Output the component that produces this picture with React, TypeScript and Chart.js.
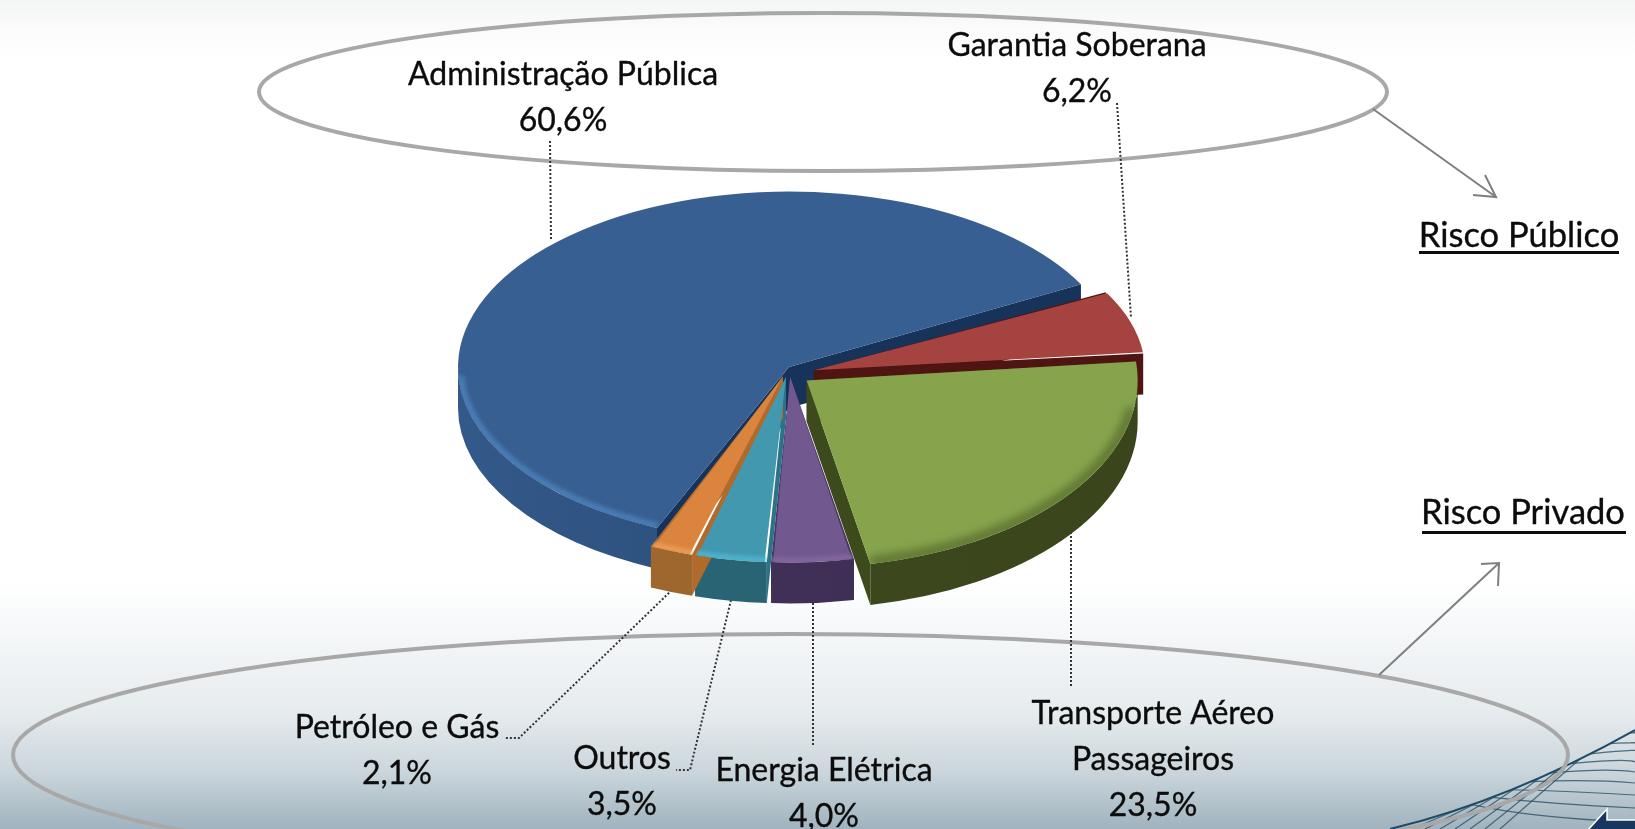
import React, { useEffect, useRef } from "react";
import { Chart, registerables } from "chart.js";

Chart.register(...registerables);

const categories = ["Administração Pública", "Garantia Soberana", "Transporte Aéreo Passageiros", "Energia Elétrica", "Outros", "Petróleo e Gás"];
const shareValues = [60.6, 6.2, 23.5, 4.0, 3.5, 2.1];
const topColors = ["#375F91", "#A44340", "#87A44D", "#71588F", "#4198AF", "#DB843D"];
const rimDark = ["#24436A", "#6A1F1C", "#3A451C", "#3B2C50", "#255F6E", "#96602A"];
const rimLight = ["#33598A", "#7A2623", "#3F4B1E", "#45345F", "#2A6878", "#A36A30"];
const cutColors = ["#17335A", "#4E1513", "#3C4A1C", "#4A3766", "#2D7387", "#B06A2C"];
const bevelColors = ["#4A7DB6", "#B85450", "#5F7532", "#86699F", "#53B7D0", "#EDA05A"];
const bevelWidths = [7, 5, 11, 5, 5, 5];
const explode = [0, 26, 22, 18, 18, 18];
// vertical squash of each slice: the front of the tilted pie looks taller than the back
const tilt = [0.53, 0.5, 0.565, 0.56, 0.56, 0.56];
const drop = [0, 7, 6, 0, 0, 0];

const W = 1635, H = 829;
const CX = 789, CY = 367, R = 331, DEPTH = 41;
const FONT = "32px Lato";
const HEAD_FONT = "34.5px Lato";
const INK = "#0c0c0c";

const labelLines = [["Administração Pública"], ["Garantia Soberana"], ["Transporte Aéreo", "Passageiros"], ["Energia Elétrica"], ["Outros"], ["Petróleo e Gás"]];
const labelAnchors = [[563, 75], [1077, 46], [1153, 714], [824, 771], [622, 759], [397, 728]];
const leaders = [
  [[550, 141], [551, 240]],
  [[1117, 103], [1131, 318]],
  [[1071, 532], [1071, 688]],
  [[813, 603], [813, 745]],
  [[731, 600], [690, 770], [676, 770]],
  [[672, 590], [519, 738], [505, 738]],
];

function geom(arc: any, i: number) {
  const half = (arc.startAngle + arc.endAngle) / 2;
  const off = (arc.options.offset || 0) / 4;
  return {
    x: CX + Math.cos(half) * off,
    y: CY + drop[i] + Math.sin(half) * off * tilt[i],
    k: tilt[i],
    s: arc.startAngle,
    e: arc.endAngle,
  };
}

function drawWalls(ctx: CanvasRenderingContext2D, arc: any, i: number) {
  const g = geom(arc, i);
  const pt = (a: number) => [g.x + R * Math.cos(a), g.y + R * g.k * Math.sin(a)];
  ctx.fillStyle = cutColors[i];
  for (const a of [g.s, g.e]) {
    const p = pt(a);
    ctx.beginPath();
    ctx.moveTo(g.x, g.y);
    ctx.lineTo(p[0], p[1]);
    ctx.lineTo(p[0], p[1] + DEPTH);
    ctx.lineTo(g.x, g.y + DEPTH);
    ctx.closePath();
    ctx.fill();
  }
  const TAU = Math.PI * 2;
  for (let n = -1; n <= 1; n++) {
    const a1 = Math.max(g.s, n * TAU);
    const a2 = Math.min(g.e, n * TAU + Math.PI);
    if (a2 <= a1) continue;
    const grad = ctx.createLinearGradient(g.x - R, 0, g.x + R, 0);
    grad.addColorStop(0, rimLight[i]);
    grad.addColorStop(1, rimDark[i]);
    ctx.fillStyle = grad;
    ctx.beginPath();
    ctx.ellipse(g.x, g.y, R, R * g.k, 0, a1, a2);
    ctx.ellipse(g.x, g.y + DEPTH, R, R * g.k, 0, a2, a1, true);
    ctx.closePath();
    ctx.fill();
  }
}

function drawBevel(ctx: CanvasRenderingContext2D, arc: any, i: number) {
  const g = geom(arc, i);
  ctx.save();
  ctx.beginPath();
  ctx.moveTo(g.x, g.y);
  ctx.ellipse(g.x, g.y, R, R * g.k, 0, g.s, g.e);
  ctx.closePath();
  ctx.clip();
  ctx.filter = i === 2 ? "blur(4px)" : "blur(2px)";
  ctx.strokeStyle = bevelColors[i];
  ctx.lineWidth = bevelWidths[i];
  const TAU = Math.PI * 2;
  for (let n = -1; n <= 1; n++) {
    const a1 = Math.max(g.s, n * TAU + 0.15);
    const a2 = Math.min(g.e, n * TAU + Math.PI - 0.05);
    if (a2 <= a1) continue;
    ctx.beginPath();
    ctx.ellipse(g.x, g.y, R - 2, R * g.k - 2, 0, a1, a2);
    ctx.stroke();
  }
  ctx.restore();
}

function drawBackground(ctx: CanvasRenderingContext2D) {
  const bg = ctx.createLinearGradient(0, 0, 0, H);
  bg.addColorStop(0, "#F4F5F5");
  bg.addColorStop(0.035, "#FBFBFB");
  bg.addColorStop(0.07, "#FFFFFF");
  bg.addColorStop(0.7, "#FFFFFF");
  bg.addColorStop(0.76, "#F6F8F9");
  bg.addColorStop(0.86, "#E6EBEE");
  bg.addColorStop(0.93, "#CBD6DC");
  bg.addColorStop(1, "#A0B3BE");
  ctx.fillStyle = bg;
  ctx.fillRect(0, 0, W, H);

  const env = (t: number) => {
    const x = (1 - t) * (1 - t) * 1390 + 2 * t * (1 - t) * 1510 + t * t * 1635;
    const y = (1 - t) * (1 - t) * 829 + 2 * t * (1 - t) * 800 + t * t * 730;
    return [x, y];
  };
  ctx.lineWidth = 1.2;
  ctx.strokeStyle = "rgba(45,80,100,0.8)";
  for (const [t, end] of [[0.98, 735], [0.9, 745], [0.82, 752], [0.74, 762], [0.66, 772], [0.58, 783], [0.5, 795], [0.42, 808], [0.34, 822]]) {
    const p = env(t);
    ctx.beginPath();
    ctx.moveTo(p[0], p[1]);
    ctx.quadraticCurveTo(p[0] + 60, end - 4, 1635, end);
    ctx.stroke();
  }
  for (const [t, x] of [[0.78, 1500], [0.7, 1485], [0.62, 1470], [0.52, 1455], [0.44, 1440], [0.36, 1425], [0.28, 1412]]) {
    const p = env(t);
    ctx.beginPath();
    ctx.moveTo(p[0], p[1]);
    ctx.lineTo(x, H);
    ctx.stroke();
  }
  ctx.strokeStyle = "#1E4A66";
  ctx.lineWidth = 2;
  ctx.beginPath();
  ctx.moveTo(1390, 829);
  ctx.quadraticCurveTo(1510, 800, 1635, 730);
  ctx.stroke();

  ctx.fillStyle = "#17375E";
  ctx.strokeStyle = "#FFFFFF";
  ctx.lineWidth = 1.5;
  ctx.beginPath();
  ctx.moveTo(1587, 831);
  ctx.lineTo(1607, 809);
  ctx.lineTo(1607, 820);
  ctx.lineTo(1637, 820);
  ctx.lineTo(1637, 831);
  ctx.closePath();
  ctx.fill();
  ctx.stroke();

  ctx.strokeStyle = "#A8A8A8";
  ctx.lineWidth = 4;
  ctx.beginPath();
  ctx.ellipse(823, 92, 564, 79, 0, 0, Math.PI * 2);
  ctx.stroke();
  ctx.beginPath();
  ctx.ellipse(790.5, 755, 777.5, 121, 0, 0, Math.PI * 2);
  ctx.stroke();

  ctx.strokeStyle = "#7F7F7F";
  ctx.lineWidth = 2;
  const poly = (pts: number[][]) => {
    ctx.beginPath();
    pts.forEach((p, i) => (i ? ctx.lineTo(p[0], p[1]) : ctx.moveTo(p[0], p[1])));
    ctx.stroke();
  };
  poly([[1373, 109], [1496, 197]]);
  poly([[1485, 175], [1496, 197], [1473, 195]]);
  poly([[1379, 675], [1499, 563]]);
  poly([[1481, 564], [1499, 563], [1498, 586]]);

  ctx.save();
  ctx.strokeStyle = "#333333";
  ctx.lineWidth = 2;
  ctx.setLineDash([2, 2]);
  leaders.forEach(poly);
  ctx.restore();
}

function drawLabels(ctx: CanvasRenderingContext2D) {
  ctx.fillStyle = INK;
  ctx.strokeStyle = INK;
  ctx.lineWidth = 0.35;
  ctx.textAlign = "center";
  ctx.textBaseline = "middle";
  ctx.font = FONT;
  const put = (t: string, x: number, y: number) => {
    ctx.fillText(t, x, y);
    ctx.strokeText(t, x, y);
  };
  categories.forEach((_, i) => {
    const [x, y] = labelAnchors[i];
    const lines = [...labelLines[i], shareValues[i].toFixed(1).replace(".", ",") + "%"];
    lines.forEach((t, n) => put(t, x, y + n * 46));
  });
  ctx.font = HEAD_FONT;
  const heads = [["Risco Público", 1519, 236, 1419, 1619, 251], ["Risco Privado", 1523, 513, 1422, 1626, 531]] as const;
  for (const [t, x, y, x1, x2, uy] of heads) {
    put(t, x, y);
    ctx.fillRect(x1, uy, x2 - x1, 3);
  }
}

const piePlugin = {
  id: "tiltedPie",
  afterDatasetsUpdate(chart: any) {
    chart.getDatasetMeta(0).data.forEach((arc: any, i: number) => {
      const off = (arc.options.offset || 0) / 4;
      const circ = arc.endAngle - arc.startAngle;
      const fix = 1 - Math.sin(Math.min(Math.PI, circ));
      arc.outerRadius = R - off * fix;
      if (!arc.__tilted) {
        arc.__tilted = true;
        const drawArc = arc.draw;
        arc.draw = function (ctx: CanvasRenderingContext2D) {
          const k = tilt[i];
          ctx.save();
          ctx.transform(1, 0, 0, k, CX - arc.x, CY + drop[i] - k * arc.y);
          drawArc.call(arc, ctx);
          ctx.restore();
        };
      }
    });
  },
  beforeDraw(chart: any) {
    drawBackground(chart.ctx);
  },
  beforeDatasetsDraw(chart: any) {
    chart.getDatasetMeta(0).data.forEach((arc: any, i: number) => drawWalls(chart.ctx, arc, i));
  },
  afterDatasetsDraw(chart: any) {
    const ctx = chart.ctx;
    chart.getDatasetMeta(0).data.forEach((arc: any, i: number) => drawBevel(ctx, arc, i));
    drawLabels(ctx);
  },
};

export default function App() {
  const ref = useRef<HTMLCanvasElement>(null);
  useEffect(() => {
    document.body.style.margin = "0";
    const chart = new Chart(ref.current!, {
      type: "pie",
      data: {
        labels: categories,
        datasets: [
          {
            data: shareValues,
            backgroundColor: topColors,
            borderWidth: 0,
            offset: explode.map((d) => d * 4),
            clip: false,
          } as any,
        ],
      },
      options: {
        responsive: false,
        animation: false,
        events: [],
        rotation: 203.5,
        radius: R,
        layout: { padding: 0 },
        plugins: { legend: { display: false }, tooltip: { enabled: false } },
      } as any,
      plugins: [piePlugin],
    });
    return () => chart.destroy();
  }, []);
  return <canvas ref={ref} width={W} height={H} style={{ display: "block" }} />;
}
